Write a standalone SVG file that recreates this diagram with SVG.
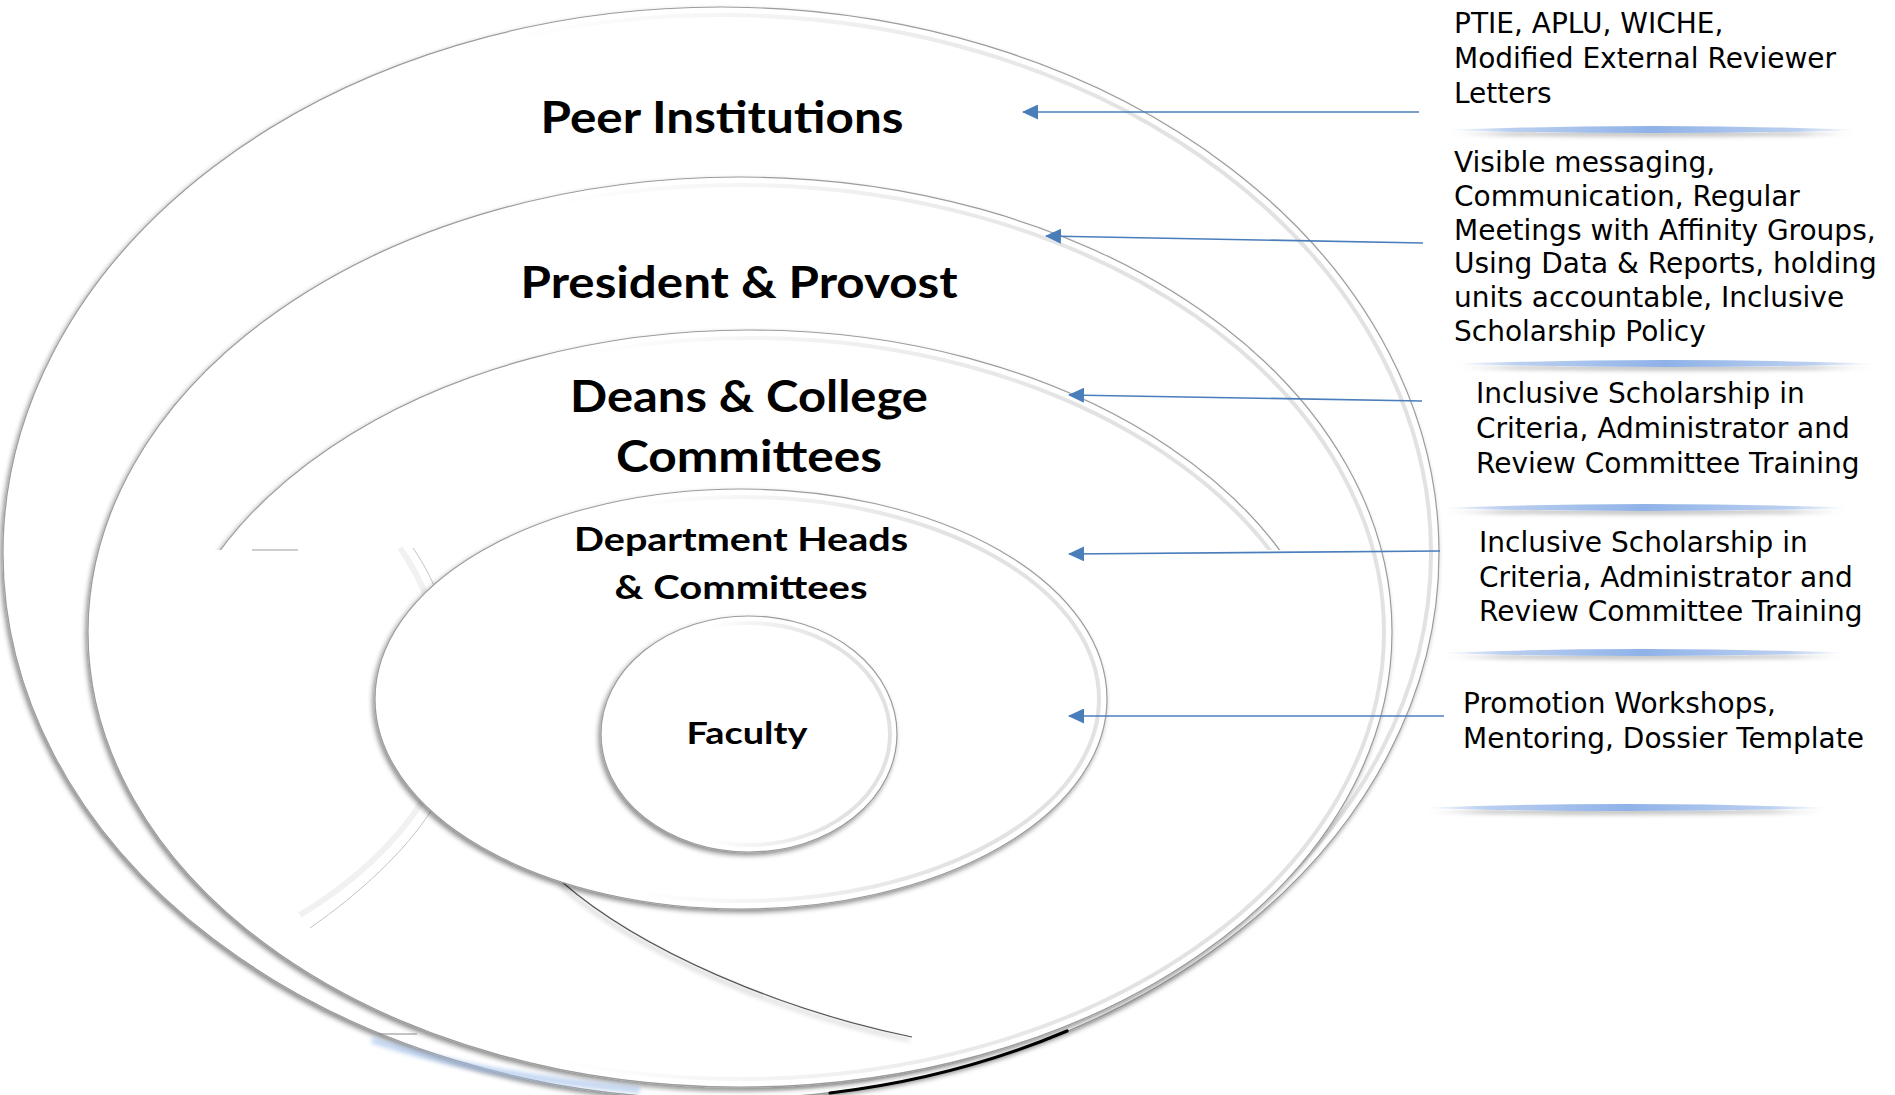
<svg xmlns="http://www.w3.org/2000/svg" width="1895" height="1095" viewBox="0 0 1895 1095">
<defs>
<style>
.ring{fill:#fff;stroke:#9c9c9c;stroke-width:1.2;filter:url(#sh);}
.band{fill:none;stroke:url(#band);stroke-width:4;}
.lbl{font-family:Lato,"Open Sans",sans-serif;font-weight:700;fill:#000;text-anchor:middle;}
.note{font-family:"DejaVu Sans",Verdana,sans-serif;font-size:28px;fill:#000;}
.arrow{stroke:#4a7ebb;stroke-width:1.6;fill:none;marker-end:url(#ah);}
.divl{fill:url(#dg);filter:url(#dsh);}
.ghostband{fill:none;stroke:#f1f1f1;stroke-width:6;}
.ghostline{fill:none;stroke:#b4b4b4;stroke-width:0.8;}
</style>
<filter id="sh" x="-5%" y="-5%" width="110%" height="112%">
<feDropShadow dx="-2" dy="3" stdDeviation="2.5" flood-color="#000" flood-opacity="0.45"/>
</filter>
<filter id="dsh" x="-5%" y="-100%" width="110%" height="400%">
<feDropShadow dx="0" dy="4" stdDeviation="2" flood-color="#000" flood-opacity="0.22"/>
</filter>
<filter id="blur" x="-10%" y="-50%" width="120%" height="200%">
<feGaussianBlur stdDeviation="2"/>
</filter>
<linearGradient id="band" x1="0" y1="0" x2="1" y2="0">
<stop offset="0.35" stop-color="#e2e2e2" stop-opacity="0"/>
<stop offset="0.8" stop-color="#e2e2e2" stop-opacity="1"/>
</linearGradient>
<linearGradient id="dg" x1="0" y1="0" x2="1" y2="0">
<stop offset="0" stop-color="#c9d8f0" stop-opacity="0"/>
<stop offset="0.15" stop-color="#bcd0f0"/>
<stop offset="0.5" stop-color="#8fb2e8"/>
<stop offset="0.85" stop-color="#bcd0f0"/>
<stop offset="1" stop-color="#c9d8f0" stop-opacity="0"/>
</linearGradient>
<clipPath id="deansClip"><rect x="0" y="0" width="1895" height="550"/></clipPath>
<marker id="ah" viewBox="0 0 16 15" refX="15" refY="7.5" markerWidth="16" markerHeight="15" markerUnits="userSpaceOnUse" orient="auto">
<path d="M0,0 L16,7.5 L0,15 Z" fill="#4a7ebb"/>
</marker>
</defs>
<rect width="1895" height="1095" fill="#fff"/>

<g id="ring-peer">
<ellipse class="ring" cx="721" cy="553" rx="718" ry="546"/>
<ellipse class="band" cx="721" cy="553" rx="710" ry="538"/>
<text class="lbl" x="722" y="133" font-size="43" textLength="363" lengthAdjust="spacingAndGlyphs">Peer Institutions</text>
</g>

<g id="ring-president">
<ellipse class="ring" cx="740" cy="632" rx="652" ry="455"/>
<ellipse class="band" cx="740" cy="632" rx="644" ry="447"/>
<text class="lbl" x="739" y="298" font-size="44" textLength="437" lengthAdjust="spacingAndGlyphs">President &amp; Provost</text>
</g>

<g id="ring-deans">
<g clip-path="url(#deansClip)">
<ellipse class="ring" cx="750" cy="730" rx="593" ry="400"/>
<ellipse class="band" cx="750" cy="730" rx="585" ry="392"/>
</g>
<line x1="252" y1="550" x2="298" y2="550" stroke="#9c9c9c" stroke-width="1.2"/>
<text class="lbl" x="749" y="412" font-size="44" textLength="358" lengthAdjust="spacingAndGlyphs">Deans &amp; College</text>
<text class="lbl" x="749" y="472" font-size="44" textLength="266" lengthAdjust="spacingAndGlyphs">Committees</text>
</g>

<g id="ring-artifacts">
<path class="ghostband" d="M 400 548 C 445 610, 470 730, 423 800 C 395 845, 350 885, 300 915"/>
<path class="ghostline" d="M 413 548 C 458 612, 482 735, 433 808 C 405 852, 360 893, 310 928"/>
<path d="M 562 882 C 640 950, 780 1010, 912 1037" fill="none" stroke="#555" stroke-width="1.2" filter="url(#sh)"/>
<path d="M 372 1040 Q 480 1076 640 1090" fill="none" stroke="#9fbdea" stroke-width="7" opacity="0.6" filter="url(#blur)"/>
<line x1="378" y1="1034" x2="417" y2="1034" stroke="#888" stroke-width="1.2"/>
<path d="M 1067 1031 A 718 546 0 0 1 830 1093" fill="none" stroke="#000" stroke-width="3.2" stroke-linecap="round"/>
</g>

<g id="ring-dept">
<ellipse class="ring" cx="741" cy="699" rx="366" ry="210"/>
<ellipse class="band" cx="741" cy="699" rx="358" ry="202"/>
<text class="lbl" x="741" y="551" font-size="32" textLength="334" lengthAdjust="spacingAndGlyphs">Department Heads</text>
<text class="lbl" x="741" y="599" font-size="32" textLength="253" lengthAdjust="spacingAndGlyphs">&amp; Committees</text>
</g>

<g id="ring-faculty">
<ellipse class="ring" cx="749" cy="734" rx="148" ry="118"/>
<ellipse class="band" cx="749" cy="734" rx="141" ry="111"/>
<text class="lbl" x="747" y="744" font-size="31" textLength="121" lengthAdjust="spacingAndGlyphs">Faculty</text>
</g>

<g id="connectors">
<line class="arrow" x1="1419" y1="112" x2="1023" y2="112"/>
<line class="arrow" x1="1423" y1="243" x2="1046" y2="236"/>
<line class="arrow" x1="1422" y1="401" x2="1069" y2="395"/>
<line class="arrow" x1="1440" y1="551" x2="1069" y2="554"/>
<line class="arrow" x1="1444" y1="716" x2="1069" y2="716"/>
</g>

<g id="dividers">
<path class="divl" d="M 1443 130 Q 1652 122 1862 130 Q 1652 136 1443 130 Z"/>
<path class="divl" d="M 1450 364 Q 1665 356 1880 364 Q 1665 370 1450 364 Z"/>
<path class="divl" d="M 1437 508 Q 1645 500 1853 508 Q 1645 514 1437 508 Z"/>
<path class="divl" d="M 1437 653 Q 1643 645 1850 653 Q 1643 659 1437 653 Z"/>
<path class="divl" d="M 1420 808 Q 1626 800 1833 808 Q 1626 814 1420 808 Z"/>
</g>

<g id="note-peer">
<text class="note" x="1454" y="33">PTIE, APLU, WICHE,</text>
<text class="note" x="1454" y="68">Modified External Reviewer</text>
<text class="note" x="1454" y="103">Letters</text>
</g>
<g id="note-president">
<text class="note" x="1454" y="172">Visible messaging,</text>
<text class="note" x="1454" y="206">Communication, Regular</text>
<text class="note" x="1454" y="240">Meetings with Affinity Groups,</text>
<text class="note" x="1454" y="273">Using Data &amp; Reports, holding</text>
<text class="note" x="1454" y="307">units accountable, Inclusive</text>
<text class="note" x="1454" y="341">Scholarship Policy</text>
</g>
<g id="note-deans">
<text class="note" x="1476" y="403">Inclusive Scholarship in</text>
<text class="note" x="1476" y="438">Criteria, Administrator and</text>
<text class="note" x="1476" y="473">Review Committee Training</text>
</g>
<g id="note-dept">
<text class="note" x="1479" y="552">Inclusive Scholarship in</text>
<text class="note" x="1479" y="587">Criteria, Administrator and</text>
<text class="note" x="1479" y="621">Review Committee Training</text>
</g>
<g id="note-faculty">
<text class="note" x="1463" y="713">Promotion Workshops,</text>
<text class="note" x="1463" y="748">Mentoring, Dossier Template</text>
</g>
</svg>
